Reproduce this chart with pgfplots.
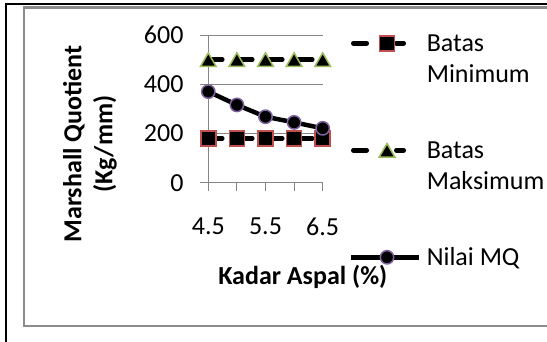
\documentclass[border=0pt]{standalone}
\usepackage{fontspec}
\setmainfont{Carlito}
\usepackage{pgfplots}
\pgfplotsset{compat=1.18}
\definecolor{cmin}{HTML}{C0504D}
\definecolor{cmax}{HTML}{9BBB59}
\definecolor{cmq}{HTML}{8064A2}
\definecolor{axgray}{HTML}{868686}
\definecolor{framegray}{HTML}{8C8C8C}
\newcommand{\F}{\fontsize{26}{31}\selectfont}
\newcommand{\twol}[2]{\begin{tabular}[t]{@{}l@{}}#1\\#2\end{tabular}}
\newcommand{\onel}[1]{\begin{tabular}[t]{@{}l@{}}#1\end{tabular}}
\pgfplotsset{
  dashleg/.style={legend image code/.code={\draw[##1, dash pattern=on 13.5pt off 29.5pt on 100pt, mark repeat=2, mark phase=2] plot coordinates {(2.25pt,8.4pt) (36pt,8.4pt) (52.75pt,8.4pt)};}},
}
\begin{document}
\F
\begin{tikzpicture}
\path[use as bounding box] (0pt,0pt) rectangle (547pt,-342pt);
\draw[black, line width=2pt] (6pt,-342pt) -- (6pt,-4.5pt) -- (547pt,-4.5pt);
\draw[framegray, line width=2.4pt] (547pt,-7.5pt) -- (24pt,-7.5pt) -- (24pt,-326pt) -- (547pt,-326pt);
\begin{axis}[
  at={(208.3pt,-182.7pt)}, anchor=south west,
  scale only axis, width=114.4pt, height=147.7pt,
  xmin=4.5, xmax=6.5, ymin=0, ymax=600,
  axis lines*=left,
  axis line style={draw=axgray, line width=1pt},
  xtick={4.5,5,5.5,6,6.5}, xticklabels={4.5,,5.5,,6.5},
  ytick={0,200,400,600},
  tick align=outside, major tick length=8pt,
  tick style={draw=axgray, line width=1pt},
  ymajorgrids, grid style={draw=axgray, line width=1pt},
  /pgf/number format/assume math mode=true,
  ticklabel style={font=\F, text=black},
  yticklabel shift=8pt, xticklabel shift=18pt,
  clip=false,
  xlabel={Kadar Aspal (\%)},
  xlabel style={at={(axis description cs:0.826,-0.6926)}, anchor=base, inner sep=0pt, font=\F\bfseries},
  ylabel={Marshall Quotient\\(Kg/mm)},
  ylabel style={at={(axis description cs:-1.035,0.262)}, anchor=center, align=center, font=\F\bfseries},
  legend style={at={(axis description cs:1.228,1.034)}, anchor=north west, draw=none, fill=none,
    inner sep=0pt, outer sep=0pt, row sep=45pt, column sep=0pt,
    cells={anchor=base west},
    nodes={inner xsep=5.5pt, inner ysep=0pt, text depth=, font=\F}},
  legend image code/.code={\draw[#1, mark repeat=2, mark phase=2] plot coordinates {(0pt,8.4pt) (36pt,8.4pt) (68pt,8.4pt)};},
]
\addplot[black, line width=4.5pt, dash pattern=on 14pt off 16pt, line cap=round,
  mark=square*, mark size=7.5pt, mark options={solid, fill=black, draw=cmin, line width=1.5pt}, dashleg]
  coordinates {(4.5,180) (5,180) (5.5,180) (6,180) (6.5,180)};
\addlegendentry{\twol{Batas}{Minimum}}
\addplot[black, line width=4.5pt, dash pattern=on 14pt off 16pt, line cap=round,
  mark=triangle*, mark size=9pt, mark options={solid, fill=black, draw=cmax, line width=1.5pt, yshift=-2.25pt}, dashleg]
  coordinates {(4.5,500) (5,500) (5.5,500) (6,500) (6.5,500)};
\addlegendentry{\twol{Batas}{Maksimum}}
\addplot[black, line width=4.5pt, line join=round,
  mark=*, mark size=6.7pt, mark options={solid, fill=black, draw=cmq, line width=1.5pt}]
  coordinates {(4.5,370) (5,316) (5.5,268) (6,245) (6.5,221)};
\addlegendentry{\onel{Nilai MQ}}
\end{axis}
\end{tikzpicture}
\end{document}
